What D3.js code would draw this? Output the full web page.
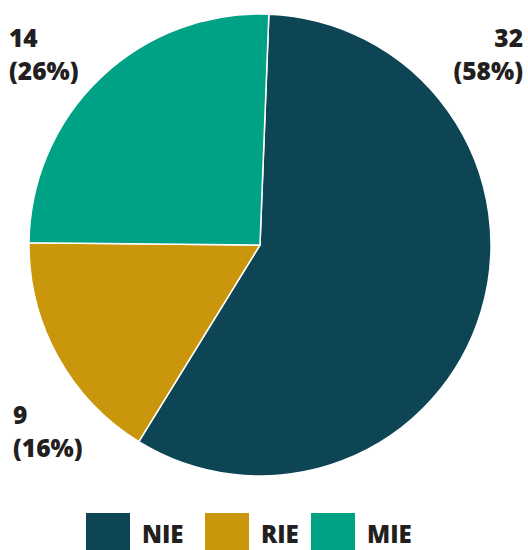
<!DOCTYPE html>
<html><head><meta charset="utf-8">
<script src="https://cdn.jsdelivr.net/npm/d3@7"></script>
<style>body{margin:0;background:#fff}svg{display:block}</style>
</head><body>
<script>
const categories = ["NIE", "RIE", "MIE"];
const values = [32, 9, 14];
const percentLabels = ["58%", "16%", "26%"];
const colors = ["#0e4555", "#c9960c", "#00a286"];

const W = 528, H = 550;
const svg = d3.select("body").append("svg").attr("width", W).attr("height", H);
const cx = 260, cy = 245, R = 231;
const offset = 2.2 * Math.PI / 180;
const pie = d3.pie().sort(null).value(d => d).startAngle(offset).endAngle(offset + 2 * Math.PI);
const arc = d3.arc().innerRadius(0).outerRadius(R);
const g = svg.append("g").attr("transform", `translate(${cx},${cy})`);
g.selectAll("path").data(pie(values)).join("path")
  .attr("d", arc).attr("fill", (d, i) => colors[i])
  .attr("stroke", "#fff").attr("stroke-width", 1.5).attr("stroke-linejoin", "miter");

const font = "'Open Sans', sans-serif";
const labelPos = [
  {x: 523, y: 47, anchor: "end"},
  {x: 13, y: 424, anchor: "start"},
  {x: 9, y: 47, anchor: "start"}
];
labelPos.forEach((p, i) => {
  const t = svg.append("text").attr("x", p.x).attr("y", p.y)
    .attr("text-anchor", p.anchor).attr("font-family", font)
    .attr("font-weight", 800).attr("font-size", 24.5).attr("fill", "#231f20");
  t.append("tspan").attr("x", p.x).text(values[i]);
  t.append("tspan").attr("x", p.x).attr("dy", 33).text(`(${percentLabels[i]})`);
});

const legendX = [86, 205, 311];
const lg = svg.append("g");
categories.forEach((c, i) => {
  lg.append("rect").attr("x", legendX[i]).attr("y", 513).attr("width", 44).attr("height", 37).attr("fill", colors[i]);
  lg.append("text").attr("x", legendX[i] + 56).attr("y", 543)
    .attr("font-family", font).attr("font-weight", 800).attr("font-size", 24)
    .attr("fill", "#231f20").text(c);
});
</script>
</body></html>
